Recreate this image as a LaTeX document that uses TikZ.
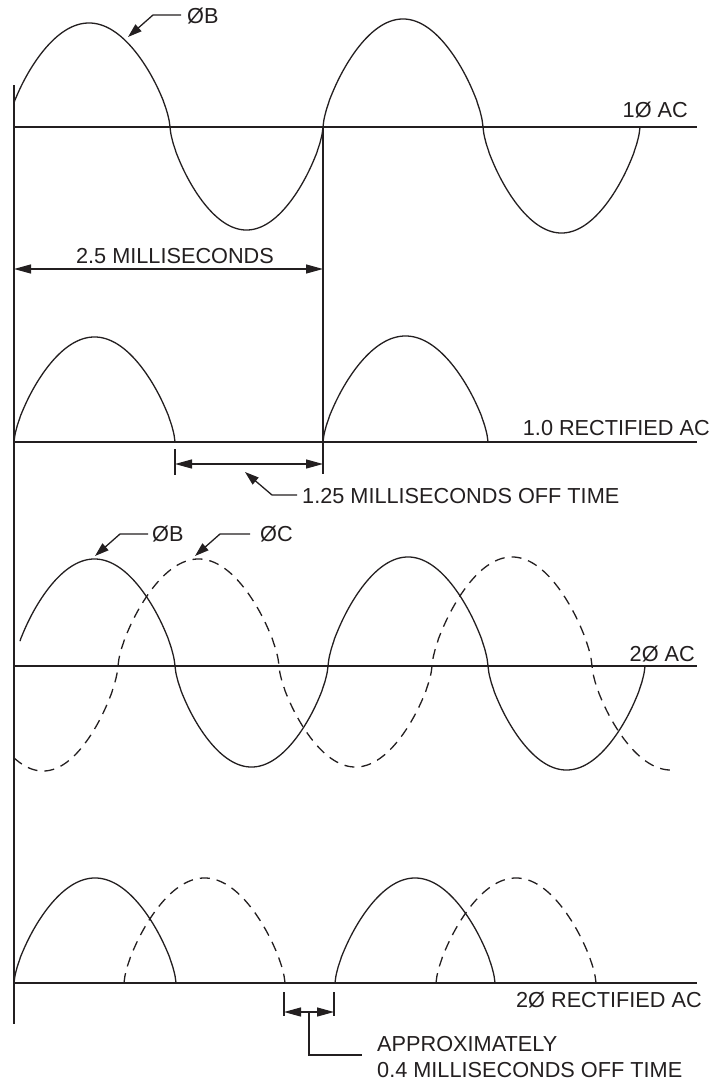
\documentclass[tikz,border=0pt]{standalone}
\usepackage{fontspec}
\setmainfont{Liberation Sans}
\usetikzlibrary{arrows.meta}
\definecolor{ink}{HTML}{231F20}
\tikzset{
  declare function={arch(\t)=pow(abs(sin(\t)),0.68);},
  wave/.style={draw=ink,line width=1.3pt,line join=round},
  dashwave/.style={draw=ink,line width=1.3pt,dash pattern=on 10pt off 7pt},
  axisline/.style={draw=ink,line width=1.5pt},
  guide/.style={draw=ink,line width=1.3pt},
  dimarrow/.style={draw=ink,line width=1.3pt,{Triangle[length=17pt,width=9pt]}-{Triangle[length=17pt,width=9pt]}},
  leader/.style={draw=ink,line width=1.3pt,-{Triangle[length=14pt,width=9pt]}},
  lbl/.style={inner sep=0pt,text=ink,font=\fontsize{21.7}{24}\selectfont}
}
\begin{document}
\begin{tikzpicture}[x=1pt,y=-1pt]
\useasboundingbox (0,0) rectangle (728,1082);
% ---------- coordinates ----------
\coordinate (Ltop) at (14,85);
\coordinate (Lbot) at (14,1024);
\coordinate (ax1l) at (14,127);  \coordinate (ax1r) at (697,127);
\coordinate (ax2l) at (14,442);  \coordinate (ax2r) at (697,442);
\coordinate (ax3l) at (14,666);  \coordinate (ax3r) at (697,666);
\coordinate (ax4l) at (14,983);  \coordinate (ax4r) at (697,983);
\coordinate (Vtop) at (323,127); \coordinate (Vbot) at (323,474);
\coordinate (d1l) at (14,269);   \coordinate (d1r) at (323,269);
\coordinate (t2a) at (175,449);  \coordinate (t2b) at (175,475);
\coordinate (d2l) at (175,464);  \coordinate (d2r) at (323,464);
\coordinate (t4a) at (284,992);  \coordinate (t4b) at (284,1016);
\coordinate (t4c) at (334,992);  \coordinate (t4d) at (334,1016);
\coordinate (d4l) at (284,1012); \coordinate (d4r) at (334,1012);
\coordinate (d4m) at (309,1012);
% ---------- frame lines ----------
\draw[guide] (Ltop) -- (Lbot);
\draw[axisline] (ax1l) -- (ax1r);
\draw[axisline] (ax2l) -- (ax2r);
\draw[axisline] (ax3l) -- (ax3r);
\draw[axisline] (ax4l) -- (ax4r);
\draw[guide] (Vtop) -- (Vbot);
% ---------- 1 phase AC ----------
\draw[wave] plot[domain=14:170,samples=200] (\x,{127-104*arch((\x-8)/162*180)})
  -- plot[domain=170:323,samples=200] (\x,{127+103*arch((\x-170)/153*180)})
  -- plot[domain=323:483,samples=200] (\x,{127-108*arch((\x-323)/160*180)})
  -- plot[domain=483:640,samples=200] (\x,{127+106*arch((\x-483)/157*180)});
% ---------- 1 phase rectified ----------
\draw[wave] plot[domain=14:175,samples=200] (\x,{442-105*arch((\x-14)/161*180)});
\draw[wave] plot[domain=323:488,samples=200] (\x,{442-106*arch((\x-323)/165*180)});
% ---------- 2 phase AC ----------
\draw[wave] plot[domain=20:175,samples=200] (\x,{666-107*arch((\x-14)/161*180)})
  -- plot[domain=175:328,samples=200] (\x,{666+101*arch((\x-175)/153*180)})
  -- plot[domain=328:488,samples=200] (\x,{666-109*arch((\x-328)/160*180)})
  -- plot[domain=488:645,samples=200] (\x,{666+104*arch((\x-488)/157*180)});
\draw[dashwave] plot[domain=14:118,samples=150] (\x,{666+105*arch((\x+32)/150*180)})
  -- plot[domain=118:279,samples=200] (\x,{666-107*arch((\x-118)/161*180)})
  -- plot[domain=279:432,samples=200] (\x,{666+101*arch((\x-279)/153*180)})
  -- plot[domain=432:592,samples=200] (\x,{666-109*arch((\x-432)/160*180)})
  -- plot[domain=592:670,samples=100] (\x,{666+104*arch((\x-592)/158*180)});
% ---------- 2 phase rectified ----------
\draw[wave] plot[domain=14:176,samples=200] (\x,{983-105*arch((\x-14)/162*180)});
\draw[wave] plot[domain=335:495,samples=200] (\x,{983-105*arch((\x-335)/160*180)});
\draw[dashwave] plot[domain=124:285,samples=200] (\x,{983-105*arch((\x-124)/161*180)});
\draw[dashwave] plot[domain=436:596,samples=200] (\x,{983-105*arch((\x-436)/160*180)});
% ---------- labels ----------
\node[lbl,anchor=base west] (phB1) at (187,23) {ØB};
\node[lbl,anchor=base east] (ac1) at (688,117) {1Ø AC};
\node[lbl,anchor=base] (ms25) at (175,263) {2.5 MILLISECONDS};
\node[lbl,anchor=base east] (rec1) at (710,435) {1.0 RECTIFIED AC};
\node[lbl,anchor=base west] (off125) at (302,503) {1.25 MILLISECONDS OFF TIME};
\node[lbl,anchor=base west] (phB2) at (152,541) {ØB};
\node[lbl,anchor=base west] (phC2) at (260,541) {ØC};
\node[lbl,anchor=base east] (ac2) at (695,661) {2Ø AC};
\node[lbl,anchor=base east] (rec2) at (702,1007) {2Ø RECTIFIED AC};
\node[lbl,anchor=base west] (approx) at (377,1051) {APPROXIMATELY};
\node[lbl,anchor=base west] (off04) at (377,1077) {0.4 MILLISECONDS OFF TIME};
% ---------- leaders ----------
\coordinate (lB1a) at (181,15); \coordinate (lB1b) at (153,15); \coordinate (lB1c) at (128,37);
\draw[leader] (lB1a) -- (lB1b) -- (lB1c);
\coordinate (l125a) at (297,495); \coordinate (l125b) at (272,495); \coordinate (l125c) at (245,472);
\draw[leader] (l125a) -- (l125b) -- (l125c);
\coordinate (lB2a) at (148,534); \coordinate (lB2b) at (120,534); \coordinate (lB2c) at (95,556);
\draw[leader] (lB2a) -- (lB2b) -- (lB2c);
\coordinate (lC2a) at (250,534); \coordinate (lC2b) at (220,534); \coordinate (lC2c) at (195,556);
\draw[leader] (lC2a) -- (lC2b) -- (lC2c);
\coordinate (l04b) at (309,1055); \coordinate (l04c) at (362,1055);
\draw[guide] (d4m) -- (l04b) -- (l04c);
% ---------- dimensions ----------
\draw[dimarrow] (d1l) -- (d1r);
\draw[guide] (t2a) -- (t2b);
\draw[dimarrow] (d2l) -- (d2r);
\draw[guide] (t4a) -- (t4b);
\draw[guide] (t4c) -- (t4d);
\draw[dimarrow] (d4l) -- (d4r);
\end{tikzpicture}
\end{document}
